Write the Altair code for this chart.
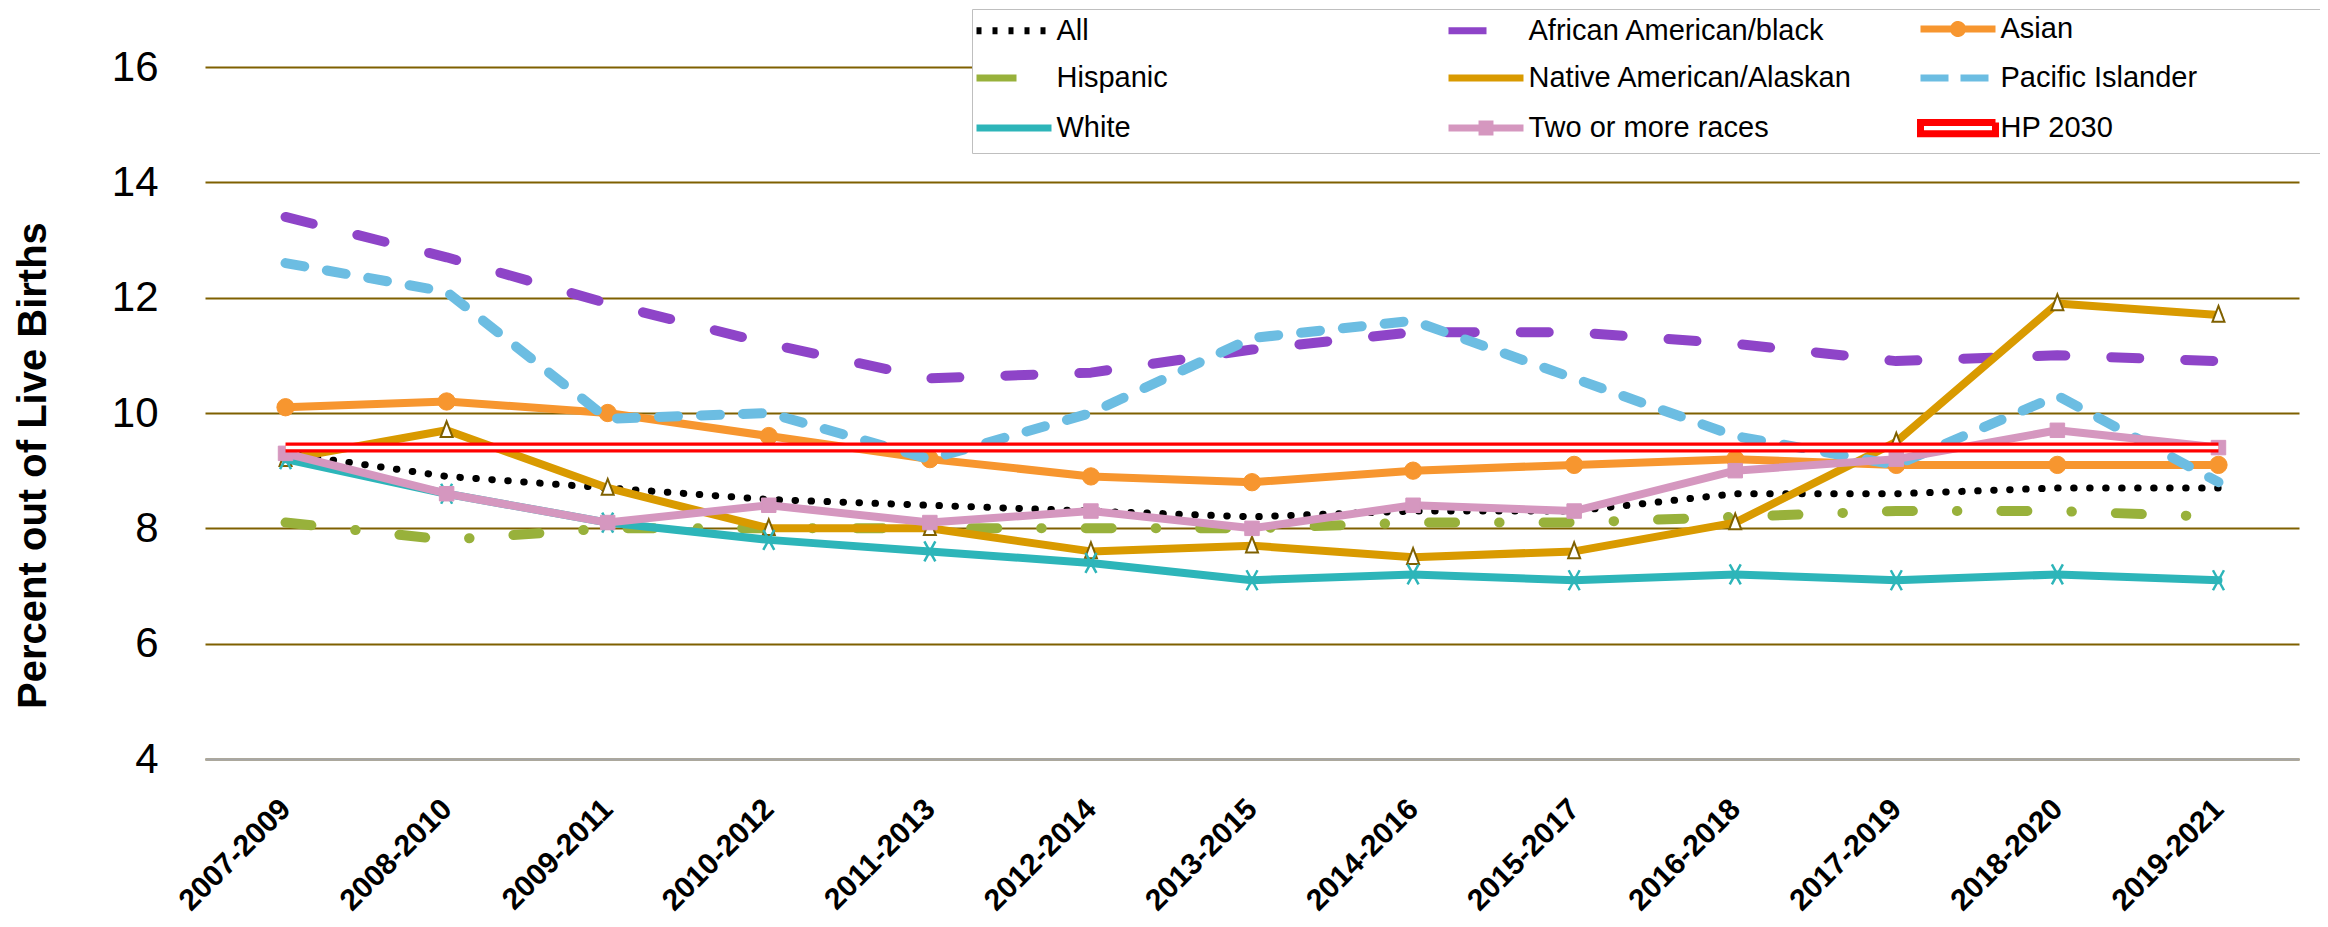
import altair as alt
import pandas as pd

# ---------------- data ----------------
categories = ["2007-2009", "2008-2010", "2009-2011", "2010-2012", "2011-2013",
              "2012-2014", "2013-2015", "2014-2016", "2015-2017", "2016-2018",
              "2017-2019", "2018-2020", "2019-2021"]

series_names = ["All", "African American/black", "Asian", "Hispanic",
                "Native American/Alaskan", "Pacific Islander", "White",
                "Two or more races", "HP 2030"]

all_values = [9.3, 8.9, 8.7, 8.5, 8.4, 8.3, 8.2, 8.3, 8.3, 8.6, 8.6, 8.7, 8.7]
african_american = [13.4, 12.7, 11.9, 11.2, 10.6, 10.7, 11.1, 11.4, 11.4, 11.2, 10.9, 11.0, 10.9]
asian = [10.1, 10.2, 10.0, 9.6, 9.2, 8.9, 8.8, 9.0, 9.1, 9.2, 9.1, 9.1, 9.1]
hispanic = [8.1, 7.8, 8.0, 8.0, 8.0, 8.0, 8.0, 8.1, 8.1, 8.2, 8.3, 8.3, 8.2]
native_american = [9.2, 9.7, 8.7, 8.0, 8.0, 7.6, 7.7, 7.5, 7.6, 8.1, 9.5, 11.9, 11.7]
pacific_islander = [12.6, 12.1, 9.9, 10.0, 9.2, 10.0, 11.3, 11.6, 10.6, 9.6, 9.1, 10.3, 8.8]
white = [9.2, 8.6, 8.1, 7.8, 7.6, 7.4, 7.1, 7.2, 7.1, 7.2, 7.1, 7.2, 7.1]
two_or_more = [9.3, 8.6, 8.1, 8.4, 8.1, 8.3, 8.0, 8.4, 8.3, 9.0, 9.2, 9.7, 9.4]
hp_2030 = [9.4] * 13

y_ticks = [4, 6, 8, 10, 12, 14, 16]

series_values = [all_values, african_american, asian, hispanic, native_american,
                 pacific_islander, white, two_or_more, hp_2030]

rows = []
for name, vals in zip(series_names, series_values):
    for cat, v in zip(categories, vals):
        rows.append({"period": cat, "series": name, "value": v})
df = pd.DataFrame(rows)

# ---------------- styles ----------------
FONT = "Liberation Sans"
colors = {
    "All": "#000000",
    "African American/black": "#8E44C8",
    "Asian": "#F7962F",
    "Hispanic": "#98B13B",
    "Native American/Alaskan": "#D99A00",
    "Pacific Islander": "#6CBDE2",
    "White": "#2DB5B9",
    "Two or more races": "#D597BF",
    "HP 2030": "#FF0000",
}
line_styles = {
    "All": dict(strokeWidth=7, strokeDash=[0.5, 15.5]),
    "African American/black": dict(strokeWidth=10, strokeDash=[28, 46]),
    "Asian": dict(strokeWidth=8),
    "Hispanic": dict(strokeWidth=10, strokeDash=[26, 44, 0.5, 44]),
    "Native American/Alaskan": dict(strokeWidth=8),
    "Pacific Islander": dict(strokeWidth=10, strokeDash=[19, 23]),
    "White": dict(strokeWidth=8),
    "Two or more races": dict(strokeWidth=8),
}

x_enc = alt.X(
    "period:N",
    sort=categories,
    scale=alt.Scale(type="point", domain=categories, padding=0.5),
    axis=alt.Axis(
        title=None, labelAngle=315, labelAlign="right", labelBaseline="middle",
        labelFont=FONT, labelFontSize=30, labelFontWeight="bold", labelColor="black",
        labelPadding=45, ticks=False, grid=False, domain=True,
        domainColor="#A6A6A6", domainWidth=2.5, labelOverlap=False, labelLimit=0,
    ),
)
y_enc = alt.Y(
    "value:Q",
    scale=alt.Scale(domain=[4, 16], nice=False, zero=False),
    axis=alt.Axis(
        values=y_ticks, grid=True, gridColor="#7F6000", gridWidth=2,
        domain=False, ticks=False,
        labelFont=FONT, labelFontSize=42, labelColor="black", labelPadding=47,
        title="Percent out of Live Births", titleFont=FONT, titleFontSize=40,
        titleFontWeight="bold", titleColor="black", titleAngle=270,
        titleX=-160, titleY=398, titleBaseline="alphabetic", titleAlign="center",
    ),
)

base = alt.Chart(df)
layers = []

marker_specs = {
    "Asian": dict(shape="circle", filled=True, fill=colors["Asian"], stroke=colors["Asian"],
                  strokeWidth=1, size=300),
    "Native American/Alaskan": dict(shape="M0,-1.2L0.8,0.9L-0.8,0.9Z", filled=True, fill="white",
                                    stroke="#7F6000", strokeWidth=2, size=225),
    "White": dict(shape="M-0.55,-1L0.55,1M-0.55,1L0.55,-1", filled=False, stroke=colors["White"],
                  strokeWidth=2.5, size=400),
    "Two or more races": dict(shape="square", filled=True, fill=colors["Two or more races"],
                              stroke=colors["Two or more races"], strokeWidth=1, size=210),
}

for name in series_names[:-1]:
    sub = base.transform_filter(alt.datum.series == name)
    layers.append(
        sub.mark_line(color=colors[name], strokeCap="round", strokeJoin="round",
                      **line_styles[name]).encode(x=x_enc, y=y_enc)
    )
    if name in marker_specs:
        layers.append(
            sub.mark_point(opacity=1, **marker_specs[name]).encode(x=x_enc, y=y_enc)
        )

hp = base.transform_filter(alt.datum.series == "HP 2030")
layers.append(hp.mark_line(color="#FF0000", strokeWidth=10).encode(x=x_enc, y=y_enc))
layers.append(hp.mark_line(color="#FFFFFF", strokeWidth=3.5).encode(x=x_enc, y=y_enc))

# ---------------- legend (legend-only layer) ----------------
# each legend glyph: invisible move-to points set the cell extent, then the line sample
cell = "M-7.13,0M50.3,0"
legend_paths = [
    cell + "M-5,0H5",
    cell + "M-5,0H5",
    cell + "M-5,0H5M0.6,0A0.6,0.6,0,1,1,-0.6,0A0.6,0.6,0,1,1,0.6,0",
    cell + "M-5,0H5",
    cell + "M-5,0H5",
    cell + "M-5,0H5",
    cell + "M-5,0H5",
    cell + "M-5,0H5M-0.53,-0.53H0.53V0.53H-0.53Z",
    cell + "M-5,-0.75H5V0.75H-5Z",
]
legend_dashes = [[5, 11], [38, 80], [1, 0], [40, 80], [1, 0], [28, 12], [1, 0], [1, 0], [1, 0]]

leg = alt.Legend(
    title=None, orient="none", legendX=767, legendY=-58, columns=3, direction="horizontal",
    gridAlign="all", columnPadding=13, rowPadding=9, padding=4.5,
    labelFont=FONT, labelFontSize=29, labelColor="black", labelLimit=1000,
    labelOffset=28, symbolOffset=23, symbolSize=225, symbolStrokeWidth=7,
    strokeColor="#BFBFBF", fillColor="white",
)

legend_layer = base.transform_filter("false").mark_point(
    filled=False, strokeWidth=7, strokeCap="round", size=225, opacity=1
).encode(
    color=alt.Color("series:N", scale=alt.Scale(domain=series_names,
                                                range=[colors[n] for n in series_names]),
                    legend=leg),
    shape=alt.Shape("series:N", scale=alt.Scale(domain=series_names, range=legend_paths),
                    legend=leg),
    strokeDash=alt.StrokeDash("series:N", scale=alt.Scale(domain=series_names, range=legend_dashes),
                              legend=leg),
)
layers.append(legend_layer)

chart = alt.layer(*layers).properties(
    width=2094, height=692,
    padding={"left": 197, "top": 59, "right": 21, "bottom": 160},
    autosize=alt.AutoSizeParams(type="none"),
    background="white",
).configure_view(stroke=None)

chart.save("out.html", embed_options={"renderer": "svg", "actions": False})
